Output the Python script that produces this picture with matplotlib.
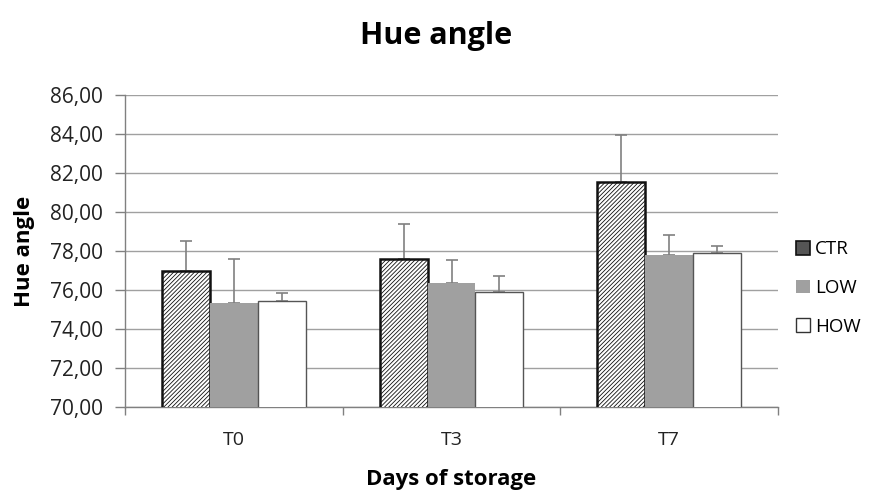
import matplotlib
matplotlib.use('Agg')
import matplotlib.pyplot as plt
import numpy as np
from matplotlib.patches import Patch
from matplotlib.ticker import FuncFormatter, FixedLocator

plt.rcParams['font.family'] = ['Open Sans', 'DejaVu Sans']
plt.rcParams['hatch.linewidth'] = 0.6

# data
days = ['T0', 'T3', 'T7']
ctr = [76.95, 77.60, 81.52]
ctr_err = [1.54, 1.80, 2.44]
low = [75.33, 76.35, 77.82]
low_err = [2.24, 1.20, 0.99]
how = [75.43, 75.90, 77.90]
how_err = [0.43, 0.80, 0.38]

fig = plt.figure(figsize=(8.72, 4.93), dpi=100)
ax = fig.add_axes([125/872, 1-407/493, (778-125)/872, (407-95)/493])

x = np.arange(len(days))
w = 0.22
grey = '#808080'
ek = dict(ecolor=grey, elinewidth=1.2, capsize=4, capthick=1.2)

ax.bar(x - w, ctr, w, color='white', edgecolor='#111111', linewidth=1.8,
       hatch='////////', zorder=3)
ax.errorbar(x - w, ctr, yerr=[np.zeros(3), ctr_err], fmt='none', zorder=2, **ek)
ax.bar(x, low, w, color='#a0a0a0', edgecolor='none', zorder=3)
ax.errorbar(x, low, yerr=[np.zeros(3), low_err], fmt='none', zorder=2, **ek)
ax.bar(x + w, how, w, color='white', edgecolor='#555555', linewidth=1.0, zorder=3)
ax.errorbar(x + w, how, yerr=[np.zeros(3), how_err], fmt='none', zorder=2, **ek)

ax.set_ylim(70, 86)
ax.set_xlim(-0.5, 2.5)
ax.set_yticks(np.arange(70, 87, 2))
ax.yaxis.set_major_formatter(FuncFormatter(lambda v, p: f'{v:.2f}'.replace('.', ',')))
ax.yaxis.grid(True, color='#a0a0a0', linewidth=1.0, zorder=0)
ax.set_axisbelow(True)

ax.set_xticks(x)
ax.set_xticklabels(days)
ax.xaxis.set_minor_locator(FixedLocator([-0.5, 0.5, 1.5, 2.5]))
ax.tick_params(axis='x', which='major', length=0, pad=17, labelsize=14, colors='#222222')
ax.tick_params(axis='x', which='minor', length=6, color=grey, width=1)
ax.tick_params(axis='y', length=7, width=1, pad=9, labelsize=15, colors=grey, labelcolor='#222222')

for s in ['top', 'right']:
    ax.spines[s].set_visible(False)
for s in ['left', 'bottom']:
    ax.spines[s].set_color(grey)
    ax.spines[s].set_linewidth(1.0)

ax.set_ylabel('Hue angle', fontsize=16, fontweight='bold')
ax.yaxis.set_label_coords(-0.138, 0.5)
ax.set_xlabel('Days of storage', fontsize=16, fontweight='bold', labelpad=15)
fig.text(436/872, 1-36/493, 'Hue angle', ha='center', va='center', fontsize=22, fontweight='bold')

handles = [Patch(facecolor='#555555', edgecolor='#111111', linewidth=1.2),
           Patch(facecolor='#a0a0a0', edgecolor='none'),
           Patch(facecolor='white', edgecolor='#333333', linewidth=1.0)]
fig.legend(handles, ['CTR', 'LOW', 'HOW'], loc='center left', bbox_to_anchor=(796/872, 1-288/493),
           frameon=False, fontsize=13.5, handlelength=0.75, handleheight=0.75,
           handletextpad=0.25, labelspacing=1.1, borderpad=0.0, borderaxespad=0.0)

fig.savefig('out.png', dpi=100)
